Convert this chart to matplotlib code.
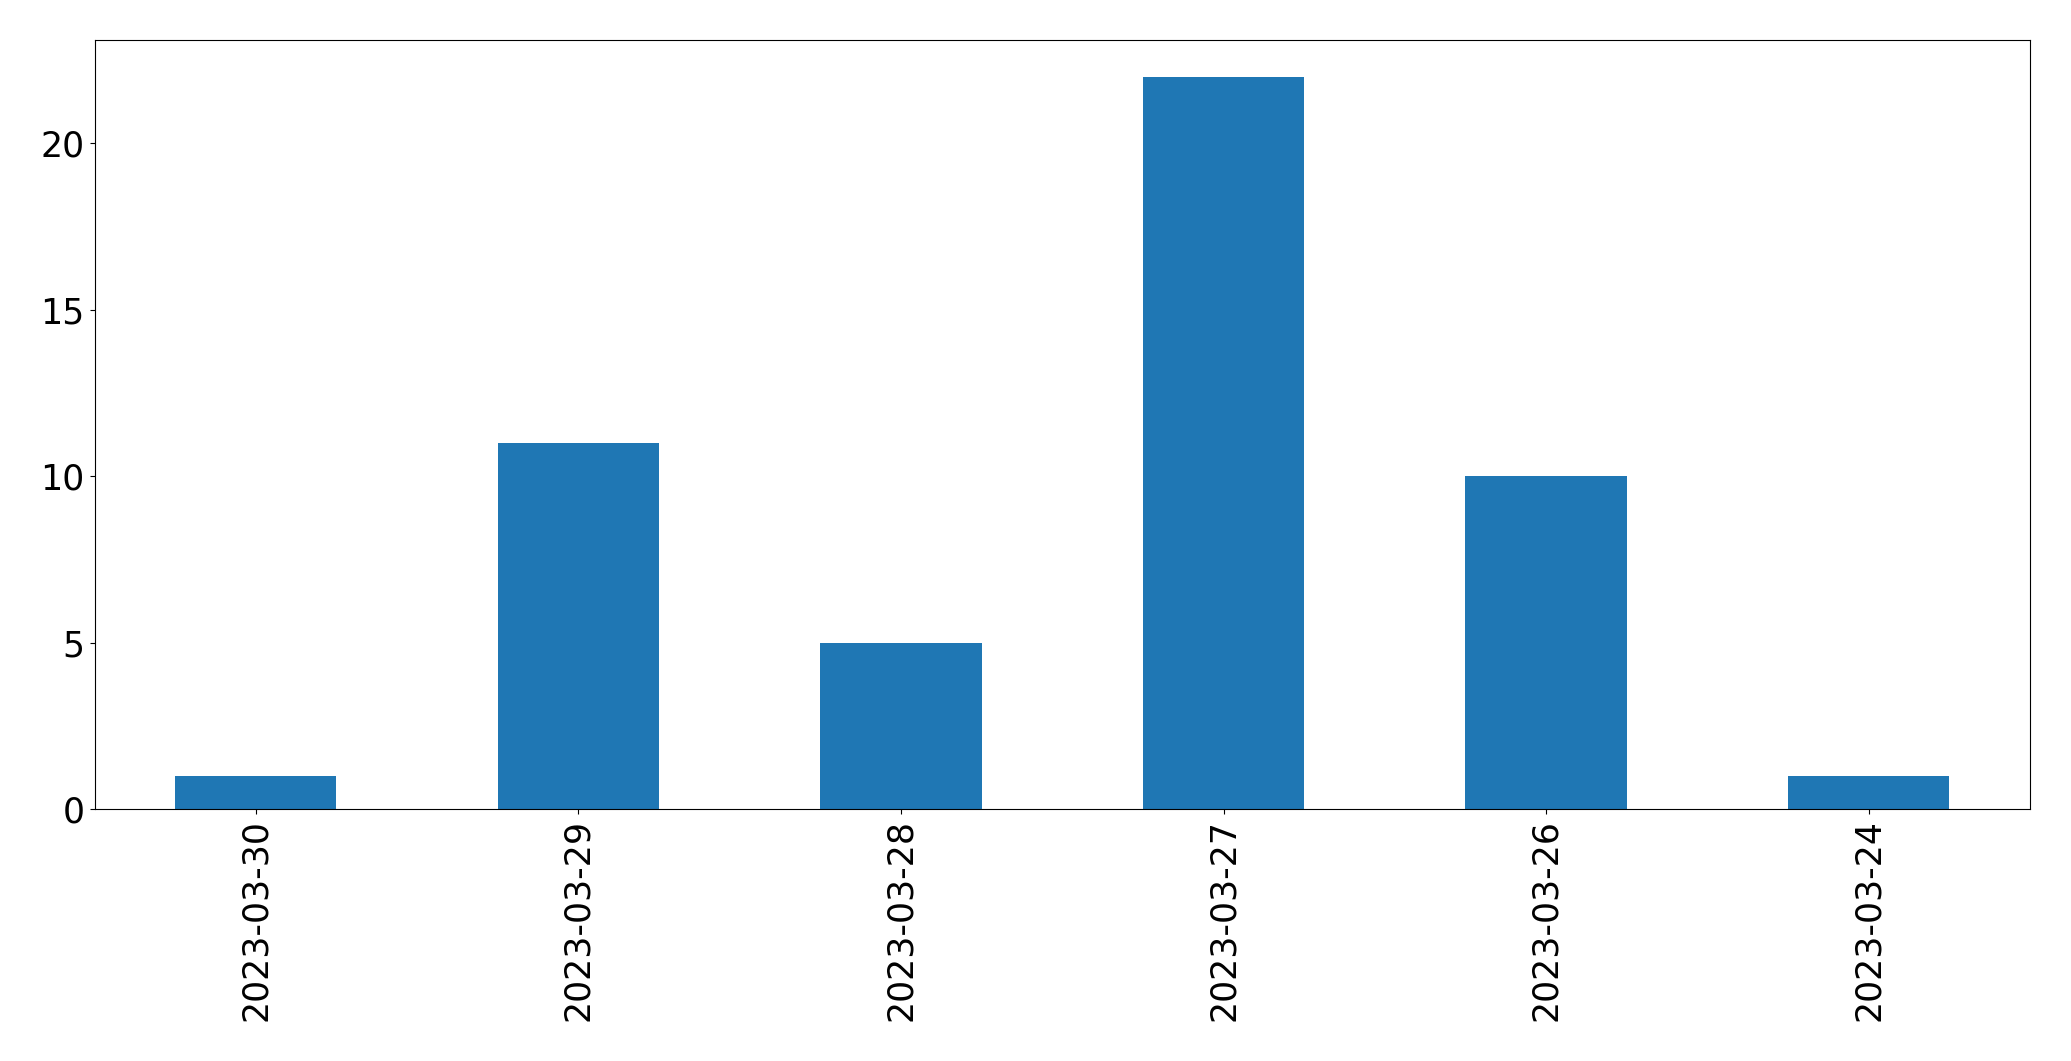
import matplotlib
matplotlib.use("Agg")
import matplotlib.pyplot as plt
import numpy as np

dates = ["2023-03-30", "2023-03-29", "2023-03-28", "2023-03-27", "2023-03-26", "2023-03-24"]
counts = [1, 11, 5, 22, 10, 1]

fig = plt.figure(figsize=(20.71, 10.61), dpi=100)
ax = fig.add_axes([94.5/2071, 1-809/1061, (2030-94.5)/2071, (809-40)/1061])
x = np.arange(len(dates))
ax.bar(x, counts, width=0.5, color="#1f77b4")
ax.set_xlim(-0.5, len(dates)-0.5)
ax.set_ylim(0, max(counts)*1.05)
ax.set_xticks(x)
ax.set_xticklabels(dates, rotation=90)
ax.tick_params(labelsize=25)
fig.savefig("out.png", dpi=100)
